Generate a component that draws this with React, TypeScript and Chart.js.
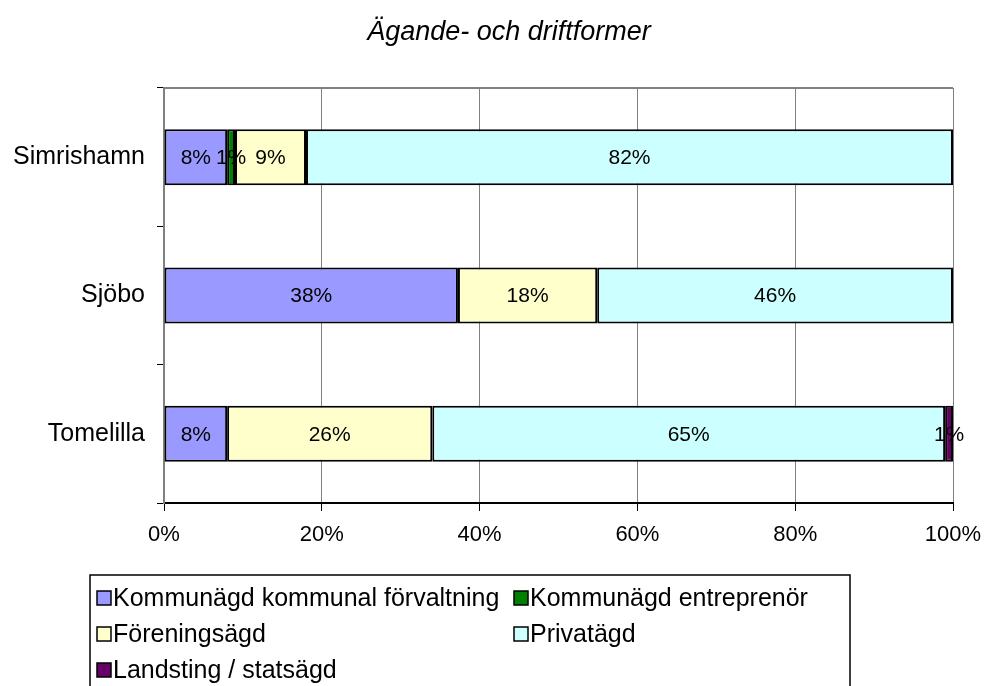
import React, { useEffect, useRef } from "react";
import { Chart, registerables } from "chart.js";

Chart.register(...registerables);

const title = "Ägande- och driftformer";
const categories = ["Simrishamn", "Sjöbo", "Tomelilla"];
const seriesNames = [
  "Kommunägd kommunal förvaltning",
  "Kommunägd entreprenör",
  "Föreningsägd",
  "Privatägd",
  "Landsting / statsägd",
];
const kommunalForvaltning = [8, 38, 8];
const kommunEntreprenor = [1, 0, 0];
const foreningsagd = [9, 18, 26];
const privatagd = [82, 46, 65];
const landsting = [0, 0, 1];
const seriesColors = ["#9999FF", "#008000", "#FFFFCC", "#CCFFFF", "#660066"];
const xTicks = [0, 20, 40, 60, 80, 100];

const FONT = "'Liberation Sans', Arial, sans-serif";

export default function App() {
  const ref = useRef<HTMLCanvasElement | null>(null);
  useEffect(() => {
    const raw = [kommunalForvaltning, kommunEntreprenor, foreningsagd, privatagd, landsting];
    const totals = categories.map((_, i) => raw.reduce((s, arr) => s + arr[i], 0));
    const datasets = raw.map((arr, k) => ({
      label: seriesNames[k],
      data: arr.map((v, i) => (v / totals[i]) * 100),
      rawValues: arr,
      backgroundColor: seriesColors[k],
      borderColor: "#000000",
      borderWidth: 2,
      borderSkipped: false,
      categoryPercentage: 1,
      barPercentage: 0.405,
    }));

    const decor = {
      id: "decor",
      beforeDatasetsDraw(chart: any) {
        const { ctx, chartArea } = chart;
        ctx.save();
        ctx.strokeStyle = "#808080";
        ctx.lineWidth = 2;
        ctx.beginPath();
        ctx.moveTo(chartArea.left, chartArea.top);
        ctx.lineTo(chartArea.right, chartArea.top);
        ctx.stroke();
        ctx.restore();
      },
      afterDatasetsDraw(chart: any) {
        const { ctx } = chart;
        ctx.save();
        ctx.font = `21px ${FONT}`;
        ctx.fillStyle = "#000";
        ctx.textAlign = "center";
        ctx.textBaseline = "middle";
        chart.data.datasets.forEach((ds: any, di: number) => {
          const meta = chart.getDatasetMeta(di);
          meta.data.forEach((bar: any, i: number) => {
            const v = ds.rawValues[i];
            if (!v) return;
            const cx = (bar.x + bar.base) / 2;
            ctx.fillText(`${v}%`, cx, bar.y + 1);
          });
        });
        ctx.restore();
      },
      afterDraw(chart: any) {
        const { ctx } = chart;
        ctx.save();
        // title
        ctx.font = `italic 27px ${FONT}`;
        ctx.fillStyle = "#000";
        ctx.textAlign = "center";
        ctx.textBaseline = "middle";
        ctx.fillText(title, 509, 32);
        // legend box
        ctx.strokeStyle = "#000";
        ctx.lineWidth = 1.5;
        ctx.beginPath();
        ctx.moveTo(90, 700);
        ctx.lineTo(90, 575);
        ctx.lineTo(850, 575);
        ctx.lineTo(850, 700);
        ctx.stroke();
        const cols = [97, 514];
        const rows = [598, 634, 670];
        ctx.font = `25px ${FONT}`;
        ctx.textAlign = "left";
        chart.data.datasets.forEach((ds: any, k: number) => {
          const x = cols[k % 2];
          const y = rows[Math.floor(k / 2)];
          ctx.fillStyle = ds.backgroundColor;
          ctx.fillRect(x, y - 7, 14, 14);
          ctx.strokeStyle = "#000";
          ctx.lineWidth = 1.5;
          ctx.strokeRect(x, y - 7, 14, 14);
          ctx.fillStyle = "#000";
          ctx.fillText(ds.label, x + 16, y + 1);
        });
        ctx.restore();
      },
    };

    const chart = new Chart(ref.current as HTMLCanvasElement, {
      type: "bar",
      data: { labels: categories, datasets: datasets as any },
      options: {
        indexAxis: "y",
        animation: false,
        responsive: true,
        maintainAspectRatio: false,
        layout: { padding: { top: 88, right: 32, left: 0, bottom: 0 } },
        plugins: { legend: { display: false }, title: { display: false }, tooltip: { enabled: false } },
        scales: {
          x: {
            stacked: true,
            min: 0,
            max: 100,
            afterBuildTicks(scale: any) {
              scale.ticks = xTicks.map((v) => ({ value: v }));
            },
            afterFit(scale: any) {
              scale.height = 183;
              scale.paddingLeft = 0;
              scale.paddingRight = 0;
            },
            ticks: {
              callback: (v: any) => `${v}%`,
              color: "#000",
              font: { family: FONT, size: 22 },
              padding: 11,
              maxRotation: 0,
              autoSkip: false,
            },
            grid: { color: "#808080", lineWidth: 1, tickColor: "#000", tickLength: 8 },
            border: { color: "#000", width: 2 },
          },
          y: {
            stacked: true,
            afterFit(scale: any) {
              scale.width = 164;
              scale.paddingTop = 0;
              scale.paddingBottom = 0;
            },
            ticks: { color: "#000", font: { family: FONT, size: 25 }, padding: 12 },
            grid: { drawOnChartArea: false, tickColor: "#000", tickLength: 7, offset: true },
            border: { color: "#808080", width: 2 },
          },
        },
      },
      plugins: [decor],
    });
    return () => chart.destroy();
  }, []);

  return (
    <div style={{ position: "absolute", left: 0, top: 0, width: 985, height: 686, background: "#fff" }}>
      <canvas ref={ref} />
    </div>
  );
}
